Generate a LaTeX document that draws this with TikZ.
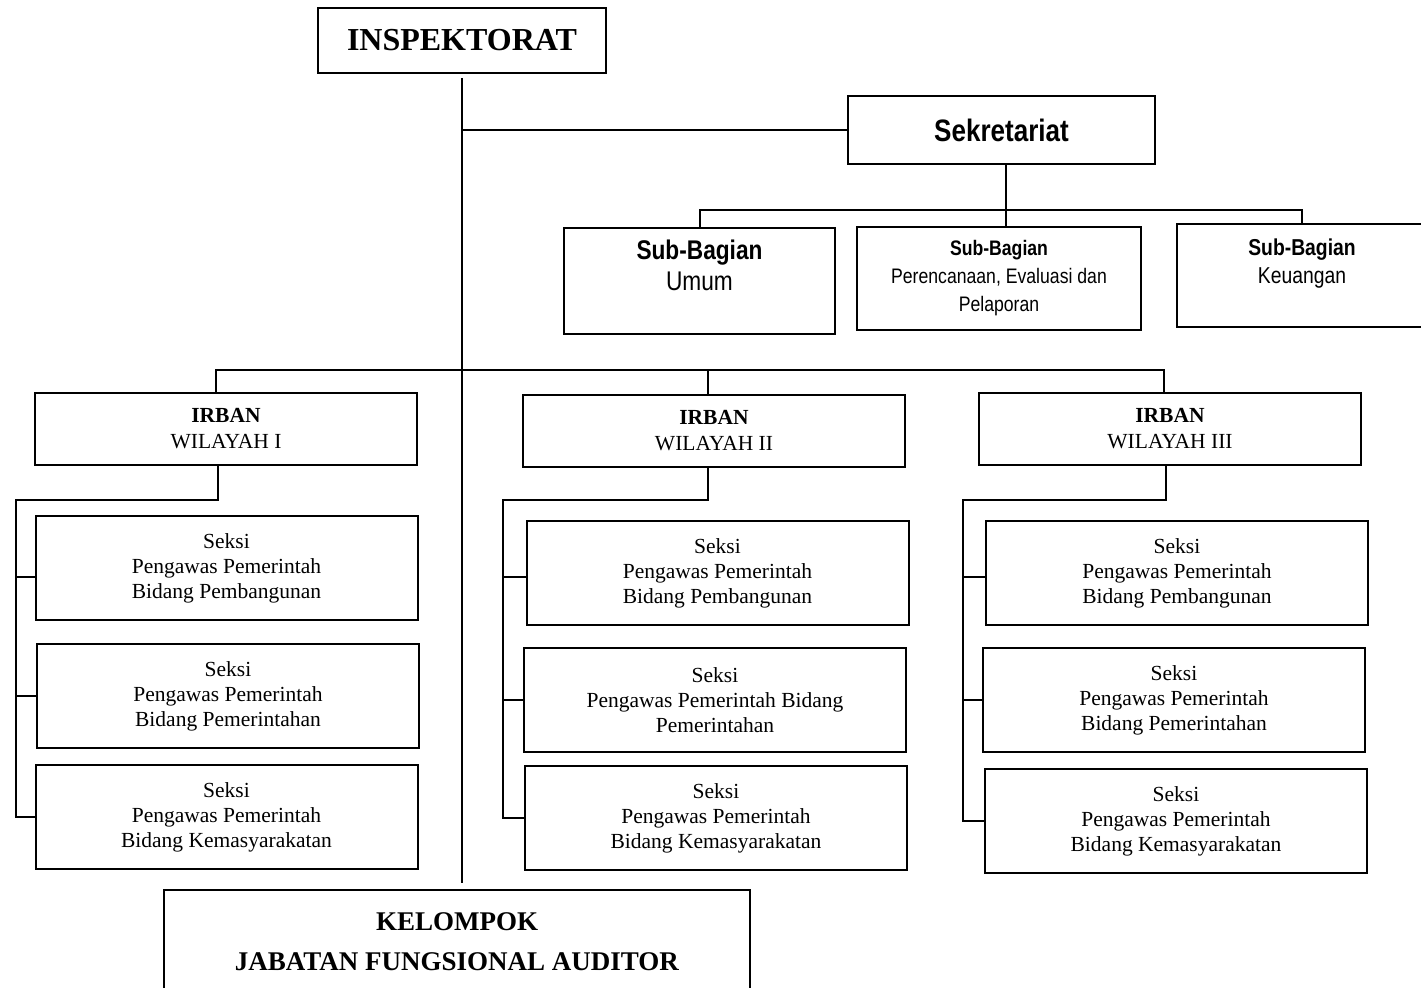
\documentclass[tikz,border=0pt]{standalone}
\usepackage{fontspec}
\setmainfont{Liberation Serif}
\newfontfamily\arialn[FakeStretch=0.84]{Liberation Sans}

\tikzset{
  unit/.style={draw, line width=1pt, rectangle, inner sep=0pt, align=center},
  seksi/.style={unit, minimum width=191pt, minimum height=52pt, font=\fontsize{10.75}{12.5}\selectfont},
  irban/.style={unit, minimum width=191pt, minimum height=36pt, font=\fontsize{10.75}{13}\selectfont},
  subbag/.style={unit, minimum height=52pt, font=\arialn},
  link/.style={line width=1pt}
}

\begin{document}
\begin{tikzpicture}[x=0.5pt, y=-0.5pt]
\useasboundingbox (0,0) rectangle (1421,988);

\node[unit, minimum width=144pt, minimum height=32.5pt, font=\fontsize{16}{19}\selectfont\bfseries] (insp) at (462,40.5) {INSPEKTORAT};
\node[unit, minimum width=153.5pt, minimum height=34pt, font=\arialn\fontsize{15.5}{18}\selectfont\bfseries] (sek) at (1001.5,130) {Sekretariat};
\node[subbag, minimum width=135.5pt, minimum height=53pt, font=\arialn\fontsize{13.5}{15.5}\selectfont] (sb1) at (699.5,281) {\textbf{Sub-Bagian}\\Umum\\\mbox{}};
\node[subbag, minimum width=142pt, minimum height=51.5pt, font=\arialn\fontsize{10.5}{14}\selectfont] (sb2) at (999,278.5) {\textbf{Sub-Bagian}\\Perencanaan, Evaluasi dan\\Pelaporan};
\node[subbag, minimum width=125pt, minimum height=51.5pt, font=\arialn\fontsize{11.5}{14}\selectfont] (sb3) at (1302,275.5) {\textbf{Sub-Bagian}\\Keuangan\\\mbox{}};

\node[irban] (ir1) at (226,429) {\textbf{IRBAN}\\WILAYAH I};
\node[irban] (ir2) at (714,431) {\textbf{IRBAN}\\WILAYAH II};
\node[irban] (ir3) at (1170,429) {\textbf{IRBAN}\\WILAYAH III};

\node[seksi] (s11) at (226.5,568) {Seksi\\Pengawas Pemerintah\\Bidang Pembangunan};
\node[seksi] (s12) at (228,696.5) {Seksi\\Pengawas Pemerintah\\Bidang Pemerintahan};
\node[seksi] (s13) at (226.5,817.5) {Seksi\\Pengawas Pemerintah\\Bidang Kemasyarakatan};
\node[seksi] (s21) at (717.5,573) {Seksi\\Pengawas Pemerintah\\Bidang Pembangunan};
\node[seksi] (s22) at (715,700.5) {Seksi\\Pengawas Pemerintah Bidang\\Pemerintahan};
\node[seksi] (s23) at (716,818.5) {Seksi\\Pengawas Pemerintah\\Bidang Kemasyarakatan};
\node[seksi] (s31) at (1177,573) {Seksi\\Pengawas Pemerintah\\Bidang Pembangunan};
\node[seksi] (s32) at (1174,700.5) {Seksi\\Pengawas Pemerintah\\Bidang Pemerintahan};
\node[seksi] (s33) at (1176,821) {Seksi\\Pengawas Pemerintah\\Bidang Kemasyarakatan};

\node[unit, minimum width=293pt, minimum height=52pt, font=\fontsize{13.5}{20}\selectfont\bfseries] (kel) at (457,942) {KELOMPOK\\JABATAN FUNGSIONAL AUDITOR};

\coordinate (sbus) at (1005,210);
\coordinate (ibus) at (461,370);
\coordinate (sp1) at (16,500);
\coordinate (sp2) at (503,500);
\coordinate (sp3) at (963,500);

\draw[link] ([yshift=-2pt]insp.south) -- ([yshift=3pt]insp.south |- kel.north);
\draw[link] (insp.south |- sek.west) -- (sek.west);
\draw[link] ([xshift=2pt]sek.south) -- ([xshift=2pt]sek.south |- sb2.north);
\draw[link] (sb1.north) -- (sb1.north |- sbus) -- (sb3.north |- sbus) -- (sb3.north);

\draw[link] ([xshift=-5pt]ir1.north) -- ([xshift=-5pt]ir1.north |- ibus) -- ([xshift=-3pt]ir3.north |- ibus) -- ([xshift=-3pt]ir3.north);
\draw[link] ([xshift=-3pt]ir2.north) -- ([xshift=-3pt]ir2.north |- ibus);

\draw[link] ([xshift=-4pt]ir1.south) |- (sp1) |- (s13.west);
\draw[link] ([yshift=-4.5pt]s11.west) -| (sp1);
\draw[link] (sp1 |- s12.west) -- (s12.west);

\draw[link] ([xshift=-3pt]ir2.south) |- (sp2) |- (s23.west);
\draw[link] ([yshift=-2pt]s21.west) -| (sp2);
\draw[link] (sp2 |- s22.west) -- (s22.west);

\draw[link] ([xshift=-2pt]ir3.south) |- (sp3) |- (s33.west);
\draw[link] ([yshift=-2pt]s31.west) -| (sp3);
\draw[link] (sp3 |- s32.west) -- (s32.west);
\end{tikzpicture}
\end{document}
